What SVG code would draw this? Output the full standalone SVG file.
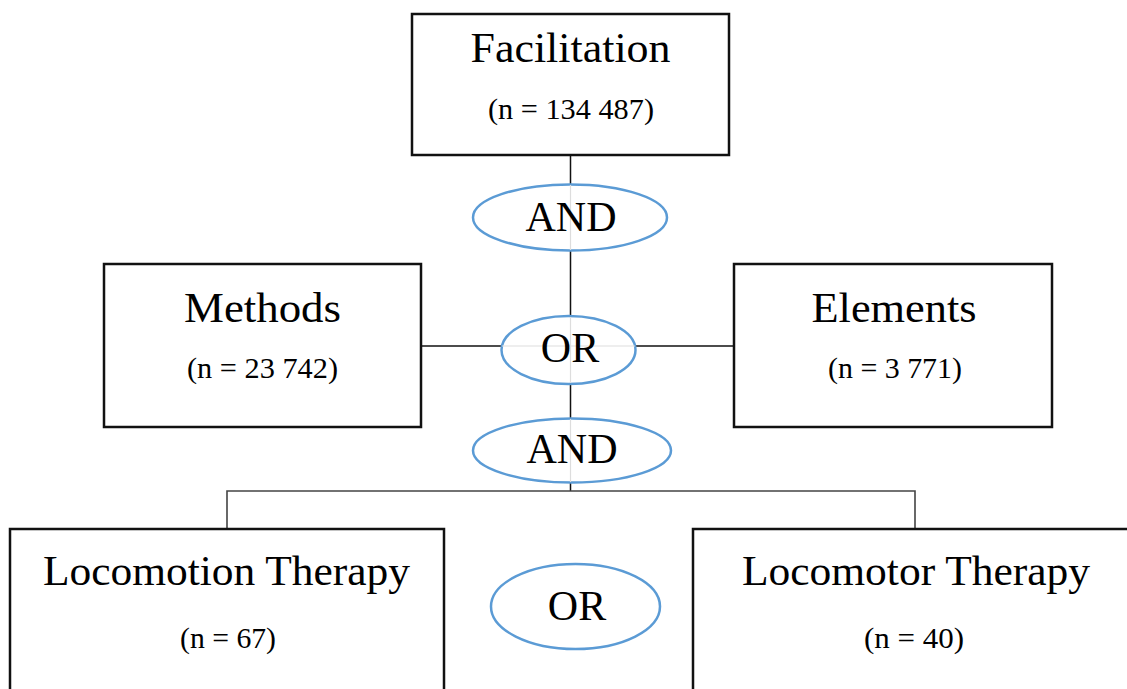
<svg xmlns="http://www.w3.org/2000/svg" width="1127" height="689" viewBox="0 0 1127 689">
<style>
.box{fill:#fff;stroke:#111;stroke-width:2.5}
.op{fill:#fff;stroke:#5b9bd5;stroke-width:2.5}
.ln{fill:none;stroke:#111;stroke-width:1.5}
.ln2{fill:none;stroke:#444;stroke-width:1.6}
.ghost{stroke:#ddd;stroke-width:1.2}
.t{font-family:"Liberation Serif","Times New Roman",serif;font-size:42px;fill:#000;text-anchor:middle}
.n{font-family:"Liberation Serif","Times New Roman",serif;font-size:30px;fill:#000;text-anchor:middle}
</style>
<rect width="1127" height="689" fill="#fff"/>
<g id="connectors">
<line class="ln" x1="570.5" y1="155" x2="570.5" y2="491"/>
<line class="ln" x1="421" y1="346" x2="734" y2="346"/>
<polyline class="ln2" points="227,529 227,491 915,491 915,529"/>
</g>
<g id="facilitation">
<rect class="box" x="412" y="14" width="317" height="141"/>
<text class="t" x="570.5" y="62" textLength="200" lengthAdjust="spacingAndGlyphs">Facilitation</text>
<text class="n" x="571" y="119" textLength="166" lengthAdjust="spacingAndGlyphs">(n = 134 487)</text>
</g>
<g id="and1">
<ellipse class="op" cx="570" cy="217.5" rx="97" ry="33"/>
<line class="ghost" x1="570.5" y1="185" x2="570.5" y2="250"/>
<text class="t" x="571" y="231">AND</text>
</g>
<g id="methods">
<rect class="box" x="104" y="264" width="317" height="163"/>
<text class="t" x="262.5" y="322" textLength="157" lengthAdjust="spacingAndGlyphs">Methods</text>
<text class="n" x="262.5" y="378" textLength="151" lengthAdjust="spacingAndGlyphs">(n = 23 742)</text>
</g>
<g id="elements">
<rect class="box" x="734" y="264" width="318" height="163"/>
<text class="t" x="894" y="322" textLength="165" lengthAdjust="spacingAndGlyphs">Elements</text>
<text class="n" x="895" y="378" textLength="134" lengthAdjust="spacingAndGlyphs">(n = 3 771)</text>
</g>
<g id="or1">
<ellipse class="op" cx="568.5" cy="350" rx="67" ry="34"/>
<line class="ghost" x1="570.5" y1="317" x2="570.5" y2="383"/>
<line class="ghost" x1="502" y1="346" x2="635" y2="346"/>
<text class="t" x="570" y="362">OR</text>
</g>
<g id="and2">
<ellipse class="op" cx="572" cy="450.5" rx="99" ry="32"/>
<line class="ghost" x1="570.5" y1="419" x2="570.5" y2="482"/>
<text class="t" x="572" y="463">AND</text>
</g>
<g id="locomotion">
<rect class="box" x="10" y="529" width="434" height="175"/>
<text class="t" x="226.5" y="585" textLength="367" lengthAdjust="spacingAndGlyphs">Locomotion Therapy</text>
<text class="n" x="228" y="648" textLength="96" lengthAdjust="spacingAndGlyphs">(n = 67)</text>
</g>
<g id="or2">
<ellipse class="op" cx="575.5" cy="606.5" rx="84.5" ry="42.5"/>
<text class="t" x="577" y="620">OR</text>
</g>
<g id="locomotor">
<rect class="box" x="693" y="529" width="450" height="175"/>
<text class="t" x="916" y="585" textLength="348" lengthAdjust="spacingAndGlyphs">Locomotor Therapy</text>
<text class="n" x="914" y="648" textLength="100" lengthAdjust="spacingAndGlyphs">(n = 40)</text>
</g>
</svg>
